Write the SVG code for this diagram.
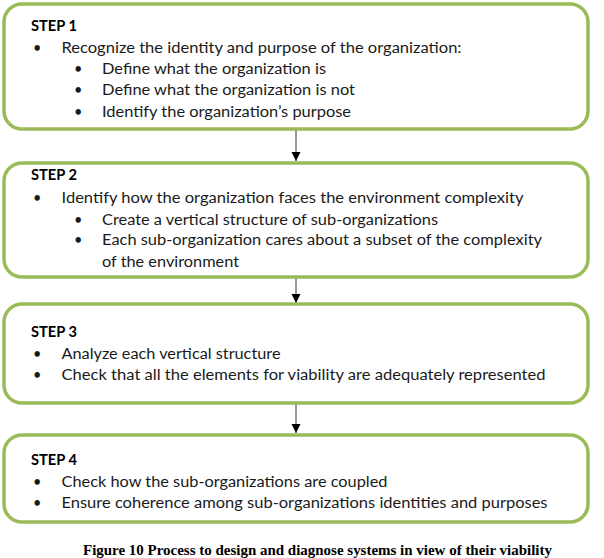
<svg xmlns="http://www.w3.org/2000/svg" width="604" height="558" viewBox="0 0 604 558">
<defs>
<style>
.box{fill:#ffffff;stroke:#9bbb59;stroke-width:3.5}
.t{font-family:Lato,"Open Sans","DejaVu Sans",sans-serif;font-size:14.5px;fill:#1a1a1a}
.h{font-family:Lato,"Open Sans","DejaVu Sans",sans-serif;font-size:14.5px;font-weight:bold;fill:#000}
.cap{font-family:"Liberation Serif","Times New Roman",serif;font-size:15px;font-weight:bold;fill:#000}
.conn{stroke:#333;stroke-width:1}
</style>
<marker id="ah" viewBox="0 0 10 10" refX="10" refY="5" markerWidth="9" markerHeight="10" markerUnits="userSpaceOnUse" orient="auto">
<path d="M0,0 L10,5 L0,10 Z" fill="#000"/>
</marker>
</defs>
<rect width="604" height="558" fill="#fff"/>
<g id="connectors">
<line class="conn" x1="296" y1="129" x2="296" y2="161" marker-end="url(#ah)"/>
<line class="conn" x1="296" y1="277" x2="296" y2="303" marker-end="url(#ah)"/>
<line class="conn" x1="296" y1="403" x2="296" y2="433" marker-end="url(#ah)"/>
</g>
<g id="step1">
<rect class="box" x="4" y="4" width="584" height="125" rx="18"/>
<text class="h" x="31" y="31" textLength="46" lengthAdjust="spacingAndGlyphs">STEP 1</text>
<text class="t" x="33" y="53">•</text>
<text class="t" x="61.5" y="53" textLength="400" lengthAdjust="spacingAndGlyphs">Recognize the identity and purpose of the organization:</text>
<text class="t" x="74" y="74">•</text>
<text class="t" x="102" y="74" textLength="224" lengthAdjust="spacingAndGlyphs">Define what the organization is</text>
<text class="t" x="74" y="95">•</text>
<text class="t" x="102" y="95" textLength="253" lengthAdjust="spacingAndGlyphs">Define what the organization is not</text>
<text class="t" x="74" y="117">•</text>
<text class="t" x="102" y="117" textLength="249" lengthAdjust="spacingAndGlyphs">Identify the organization’s purpose</text>
</g>
<g id="step2">
<rect class="box" x="4" y="163" width="584" height="114" rx="18"/>
<text class="h" x="31" y="180" textLength="46" lengthAdjust="spacingAndGlyphs">STEP 2</text>
<text class="t" x="33" y="203">•</text>
<text class="t" x="61.5" y="203" textLength="462" lengthAdjust="spacingAndGlyphs">Identify how the organization faces the environment complexity</text>
<text class="t" x="74" y="225">•</text>
<text class="t" x="102" y="225" textLength="336" lengthAdjust="spacingAndGlyphs">Create a vertical structure of sub-organizations</text>
<text class="t" x="74" y="245">•</text>
<text class="t" x="102" y="245" textLength="440" lengthAdjust="spacingAndGlyphs">Each sub-organization cares about a subset of the complexity</text>
<text class="t" x="102" y="267" textLength="137" lengthAdjust="spacingAndGlyphs">of the environment</text>
</g>
<g id="step3">
<rect class="box" x="4" y="304" width="584" height="99" rx="18"/>
<text class="h" x="31" y="337" textLength="46" lengthAdjust="spacingAndGlyphs">STEP 3</text>
<text class="t" x="33" y="359">•</text>
<text class="t" x="61.5" y="359" textLength="219" lengthAdjust="spacingAndGlyphs">Analyze each vertical structure</text>
<text class="t" x="33" y="380">•</text>
<text class="t" x="61.5" y="380" textLength="484" lengthAdjust="spacingAndGlyphs">Check that all the elements for viability are adequately represented</text>
</g>
<g id="step4">
<rect class="box" x="4" y="435" width="584" height="87" rx="18"/>
<text class="h" x="31" y="465" textLength="46" lengthAdjust="spacingAndGlyphs">STEP 4</text>
<text class="t" x="33" y="487">•</text>
<text class="t" x="61.5" y="487" textLength="326" lengthAdjust="spacingAndGlyphs">Check how the sub-organizations are coupled</text>
<text class="t" x="33" y="508">•</text>
<text class="t" x="61.5" y="508" textLength="486" lengthAdjust="spacingAndGlyphs">Ensure coherence among sub-organizations identities and purposes</text>
</g>
<text class="cap" x="83" y="555" textLength="469" lengthAdjust="spacingAndGlyphs">Figure 10 Process to design and diagnose systems in view of their viability</text>
</svg>
